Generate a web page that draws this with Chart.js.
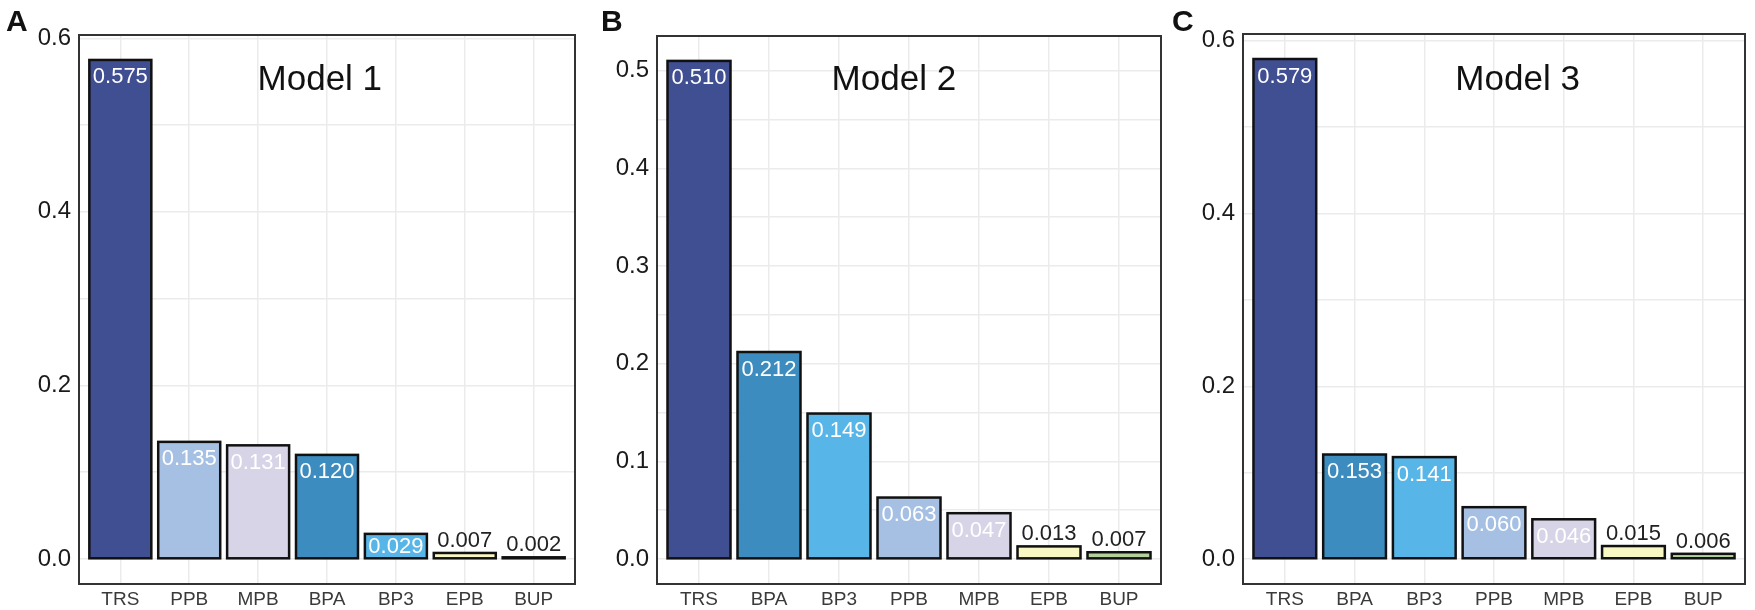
<!DOCTYPE html>
<html>
<head>
<meta charset="utf-8">
<script src="https://cdn.jsdelivr.net/npm/chart.js@4"></script>
<style>
  body { margin: 0; background: #fff; }
  #wrap { position: relative; width: 1755px; height: 610px; overflow: hidden; }
  canvas { position: absolute; top: 0; }
</style>
</head>
<body>
<div id="wrap">
  <canvas id="chartA" width="585" height="610" style="left:0px"></canvas>
  <canvas id="chartB" width="575" height="610" style="left:590px"></canvas>
  <canvas id="chartC" width="590" height="610" style="left:1165px"></canvas>
</div>
<script>
// Model 1
const catsA = ['TRS', 'PPB', 'MPB', 'BPA', 'BP3', 'EPB', 'BUP'];
const valuesA = [0.575, 0.135, 0.131, 0.120, 0.029, 0.007, 0.002];
const yTicksA = [0, 0.2, 0.4, 0.6];

// Model 2
const catsB = ['TRS', 'BPA', 'BP3', 'PPB', 'MPB', 'EPB', 'BUP'];
const valuesB = [0.510, 0.212, 0.149, 0.063, 0.047, 0.013, 0.007];
const yTicksB = [0, 0.1, 0.2, 0.3, 0.4, 0.5];

// Model 3 (printed numbers differ from drawn heights for BPA / BP3 in the figure)
const catsC = ['TRS', 'BPA', 'BP3', 'PPB', 'MPB', 'EPB', 'BUP'];
const labelsC = [0.579, 0.153, 0.141, 0.060, 0.046, 0.015, 0.006];
const barsC = [0.579, 0.121, 0.118, 0.060, 0.046, 0.015, 0.006];
const yTicksC = [0, 0.2, 0.4, 0.6];

const colors = {
    TRS: '#404e92',
    PPB: '#a6c0e4',
    MPB: '#d8d4e8',
    BPA: '#3d8cbf',
    BP3: '#58b5e7',
    EPB: '#f9f7c4',
    BUP: '#b3d29b'
};

const FONT = '"Liberation Sans", Arial, Helvetica, sans-serif';

const decor = {
    id: 'decor',
    afterDatasetsDraw(chart) {
        const o = chart.options.plugins.decor;
        const ctx = chart.ctx;
        const area = chart.chartArea;
        const bars = chart.getDatasetMeta(0).data;
        ctx.save();
        // outline centred on the bar edges (ggplot style)
        ctx.strokeStyle = '#111111';
        ctx.lineWidth = 2.5;
        bars.forEach(bar => {
            ctx.strokeRect(bar.x - bar.width / 2, bar.y, bar.width, bar.base - bar.y);
        });
        // bar value labels
        ctx.font = '22px ' + FONT;
        ctx.textAlign = 'center';
        ctx.textBaseline = 'alphabetic';
        bars.forEach((bar, i) => {
            const txt = o.labels[i].toFixed(3);
            const h = bar.base - bar.y;
            if (h > 18) {
                ctx.fillStyle = '#ffffff';
                ctx.fillText(txt, bar.x, Math.min(bar.y + 23.5, bar.base - 5));
            } else {
                ctx.fillStyle = '#222222';
                ctx.fillText(txt, bar.x, bar.y - 6);
            }
        });
        // panel frame
        ctx.strokeStyle = '#333333';
        ctx.lineWidth = 2;
        ctx.strokeRect(area.left, area.top, area.right - area.left, area.bottom - area.top);
        // title inside the panel
        ctx.fillStyle = '#111111';
        ctx.font = '35px ' + FONT;
        ctx.fillText(o.title, area.left + o.titleX * (area.right - area.left), 89.5);
        // panel letter
        ctx.textAlign = 'left';
        ctx.font = 'bold 30px ' + FONT;
        ctx.fillText(o.letter, o.letterX, 31);
        ctx.restore();
    }
};

function makePanel(id, cats, bars, labels, majorTicks, cfg) {
    const top = Math.max(...bars);
    const yMin = -0.05 * top;
    const yMax = 1.05 * top;
    const half = (majorTicks[1] - majorTicks[0]) / 2;
    const allTicks = [];
    majorTicks.forEach(t => {
        allTicks.push(t);
        if (t + half <= yMax) allTicks.push(t + half);
    });

    new Chart(document.getElementById(id), {
        type: 'bar',
        data: {
            datasets: [{
                data: bars.map((v, i) => ({ x: i, y: v })),
                backgroundColor: cats.map(c => colors[c]),
                borderWidth: 0,
                barPercentage: 0.9,
                categoryPercentage: 1
            }]
        },
        options: {
            responsive: false,
            animation: false,
            devicePixelRatio: 1,
            layout: { padding: { top: cfg.top, right: cfg.right, left: 0, bottom: 0 } },
            plugins: {
                legend: { display: false },
                tooltip: { enabled: false },
                decor: { labels: labels, title: cfg.title, titleX: cfg.titleX, letter: cfg.letter, letterX: cfg.letterX }
            },
            scales: {
                x: {
                    type: 'linear',
                    min: -0.6,
                    max: 6.6,
                    offset: false,
                    afterBuildTicks: axis => { axis.ticks = cats.map((c, i) => ({ value: i })); },
                    afterFit: axis => { axis.height = 610 - cfg.bottom; },
                    ticks: {
                        autoSkip: false,
                        maxRotation: 0,
                        padding: 4,
                        color: '#3a3a3a',
                        font: { family: FONT, size: 19 },
                        callback: (value, index) => cats[index]
                    },
                    grid: { color: '#ebebeb', lineWidth: 1.5, drawTicks: false, offset: false },
                    border: { display: false }
                },
                y: {
                    min: yMin,
                    max: yMax,
                    afterBuildTicks: axis => { axis.ticks = allTicks.map(v => ({ value: v })); },
                    afterFit: axis => { axis.width = cfg.yWidth; },
                    ticks: {
                        padding: 8,
                        color: '#1a1a1a',
                        font: { family: FONT, size: 24 },
                        callback: value => majorTicks.some(t => Math.abs(t - value) < 1e-6) ? value.toFixed(1) : ''
                    },
                    grid: { color: '#ebebeb', lineWidth: 1.5, drawTicks: false },
                    border: { display: false }
                }
            }
        },
        plugins: [decor]
    });
}

makePanel('chartA', catsA, valuesA, valuesA, yTicksA,
    { top: 35, bottom: 584, right: 10, yWidth: 79, title: 'Model 1', titleX: 0.4855, letter: 'A', letterX: 6 });
makePanel('chartB', catsB, valuesB, valuesB, yTicksB,
    { top: 36, bottom: 584, right: 4, yWidth: 67, title: 'Model 2', titleX: 0.47, letter: 'B', letterX: 11 });
makePanel('chartC', catsC, barsC, labelsC, yTicksC,
    { top: 34, bottom: 584, right: 10, yWidth: 78, title: 'Model 3', titleX: 0.547, letter: 'C', letterX: 7 });
</script>
</body>
</html>
